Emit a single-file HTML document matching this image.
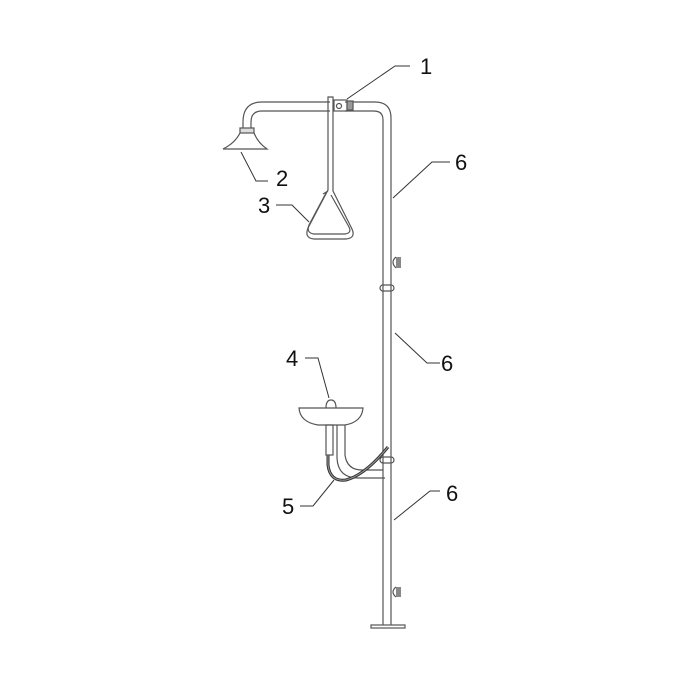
<!DOCTYPE html>
<html><head><style>body{margin:0;background:#fff}svg{display:block}text{font-family:"Liberation Sans",sans-serif;font-size:22px;fill:#111}</style></head>
<body><svg width="700" height="700" viewBox="0 0 700 700">
<g fill="none" stroke="#555" stroke-width="1.2">
<!-- main vertical pipe with top bend -->
<path d="M383 625 V120 Q383 111 374 111 H345"/>
<path d="M391 625 V118 Q391 102 375 102 H345"/>
<!-- left arm -->
<path d="M330 102 H262 Q243 102 243 122 V130"/>
<path d="M330 111 H262 Q251 111 251 122 V130"/>
<!-- shower head -->
<rect x="240" y="128" width="14" height="5" fill="#ddd"/>
<path d="M240 133 Q235 143 223 149 H267 Q258 143 254 133"/>
<!-- valve -->
<rect x="334" y="100" width="13" height="11"/>
<circle cx="339" cy="106" r="2.5"/>
<rect x="347" y="101" width="6" height="9" fill="#999"/>
<!-- pull rod -->
<path d="M328 97 V190 L308 228 Q304 238 314 239 H346 Q356 238 352 229 L333 191 V97 Z"/>
<path d="M326 193 L309 225 Q306 233 314 234 H345 Q352 233 349 227 L331 195"/>
<line x1="323" y1="194" x2="328" y2="191"/>
<!-- clamps & pads -->
<rect x="380" y="285" width="14" height="6" rx="3"/>
<rect x="380" y="457" width="14" height="6" rx="3"/>
<path d="M396 257 Q390 262 396 268" />
<rect x="396" y="257" width="5" height="11" fill="#888" stroke="none"/>
<path d="M396 587 Q390 592 396 597"/>
<rect x="396" y="587" width="5" height="10" fill="#888" stroke="none"/>
<!-- base plate -->
<rect x="371" y="625" width="34" height="3"/>
<!-- basin -->
<path d="M299 408 H363 Q362 422 345 425 H318 Q300 422 299 408 Z"/>
<path d="M326 408 Q326 400 331 400 Q336 400 336 408"/>
<path d="M337 425 V458 Q338 478 358 478 H385 M345 425 V455 Q347 470 362 470 H383"/>
<rect x="326" y="425" width="7" height="30"/>
<!-- hose -->
<path d="M328 455 V465 Q330 482 346 480 Q365 475 388 447" stroke="#333" stroke-width="3"/>
<path d="M328 455 V465 Q330 482 346 480 Q365 475 388 447" stroke="#999" stroke-width="1"/>
</g>
<g fill="none" stroke="#333" stroke-width="1">
<path d="M410 66 H395 L347 99"/>
<path d="M268 181 H256 L241 152"/>
<path d="M276 205 H292 L309 222"/>
<path d="M450 162 H432 L393 198"/>
<path d="M440 363 H427 L395 333"/>
<path d="M440 491 H430 L394 520"/>
<path d="M305 358 H318 L329 398"/>
<path d="M300 506 H313 L334 480"/>
</g>
<text x="420" y="74">1</text>
<text x="276" y="186">2</text>
<text x="258" y="213">3</text>
<text x="455" y="170">6</text>
<text x="441" y="371">6</text>
<text x="446" y="501">6</text>
<text x="286" y="366">4</text>
<text x="282" y="514">5</text>
</svg></body></html>
